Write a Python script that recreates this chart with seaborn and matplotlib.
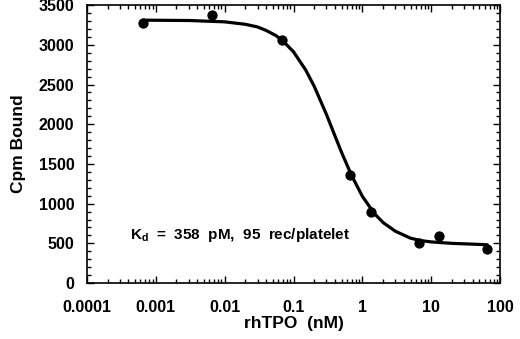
import matplotlib
matplotlib.use("Agg")
import matplotlib.pyplot as plt
import matplotlib.ticker as mticker
import seaborn as sns
import pandas as pd

# Measured data points
conc_nM = [0.00065, 0.0065, 0.067, 0.65, 1.35, 6.7, 13.0, 65.0]
cpm_bound = [3280, 3370, 3060, 1360, 900, 510, 595, 430]

# Fitted curve
fit_x = [0.00065, 0.003, 0.01, 0.02, 0.03, 0.04, 0.055, 0.07, 0.1, 0.15, 0.2,
         0.3, 0.4, 0.5, 0.7, 1.0, 1.5, 2.0, 3.0, 5.0, 7.0, 10.0, 20.0, 40.0, 65.0]
fit_y = [3310, 3306, 3289, 3258, 3225, 3181, 3118, 3049, 2911, 2683, 2476,
         2124, 1851, 1641, 1350, 1091, 872, 761, 653, 565, 535, 518, 500, 490, 482]

x_ticks = [0.0001, 0.001, 0.01, 0.1, 1, 10, 100]
x_tick_labels = ["0.0001", "0.001", "0.01", "0.1", "1", "10", "100"]
y_ticks = [0, 500, 1000, 1500, 2000, 2500, 3000, 3500]

sns.set_style("ticks")
plt.rcParams['font.family'] = ['Liberation Sans', 'DejaVu Sans']
plt.rcParams['font.weight'] = 'bold'
plt.rcParams['text.color'] = 'black'
plt.rcParams['axes.labelcolor'] = 'black'
plt.rcParams['xtick.color'] = 'black'
plt.rcParams['ytick.color'] = 'black'
plt.rcParams['mathtext.fontset'] = 'custom'
plt.rcParams['mathtext.rm'] = 'Liberation Sans:bold'
plt.rcParams['mathtext.bf'] = 'Liberation Sans:bold'
plt.rcParams['mathtext.it'] = 'Liberation Sans:bold'

fig = plt.figure(figsize=(5.2, 3.39), dpi=100)
ax = fig.add_axes([0.167, 0.165, 0.795, 0.82])

pts = pd.DataFrame({"x": conc_nM, "y": cpm_bound})
curve = pd.DataFrame({"x": fit_x, "y": fit_y})

sns.lineplot(data=curve, x="x", y="y", ax=ax, color="black", linewidth=2.3,
             sort=True, estimator=None)
sns.scatterplot(data=pts, x="x", y="y", ax=ax, color="black", s=55,
                edgecolor="black", linewidth=0, zorder=3)

ax.set_xscale("log")
ax.set_xlim(0.0001, 100)
ax.set_ylim(0, 3500)
ax.set_xticks(x_ticks)
ax.xaxis.set_major_formatter(mticker.FixedFormatter(x_tick_labels))
ax.xaxis.set_minor_locator(mticker.LogLocator(base=10, subs=range(2, 10), numticks=20))
ax.xaxis.set_minor_formatter(mticker.NullFormatter())
ax.set_yticks(y_ticks)
ax.yaxis.set_minor_locator(mticker.MultipleLocator(100))

ax.tick_params(axis="both", which="both", direction="in", top=True, right=True,
               colors="black", labelcolor="black", labelsize=11.5, width=1.0)
ax.tick_params(which="major", length=5)
ax.tick_params(which="minor", length=3)
ax.tick_params(axis="x", pad=12)
ax.tick_params(axis="y", pad=9)
for lab in ax.get_xticklabels() + ax.get_yticklabels():
    lab.set_fontweight("bold")

for sp in ax.spines.values():
    sp.set_visible(True)
    sp.set_linewidth(1.2)
    sp.set_color("black")

ax.set_xlabel("rhTPO  (nM)", fontsize=12.5, fontweight="bold", labelpad=1)
ax.set_ylabel("Cpm Bound", fontsize=12.5, fontweight="bold", labelpad=9)

ax.text(0.00042, 610, r"K$_\mathregular{d}$  =  358  pM,  95  rec/platelet",
        fontsize=11, fontweight="bold", color="black", va="center", ha="left")

fig.savefig("out.png", dpi=100)
